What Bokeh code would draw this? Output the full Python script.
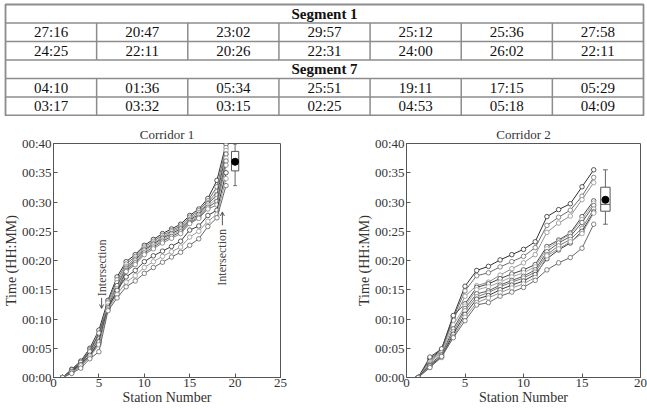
import numpy as np
from bokeh.plotting import figure
from bokeh.layouts import column, row
from bokeh.models import Range1d, FixedTicker, Arrow, OpenHead, Label
from bokeh.embed import file_html
from bokeh.resources import INLINE
from bokeh.core.properties import value

SERIF = "Liberation Serif"

# ---------------- table data ----------------
segment_headers = ["Segment 1", "Segment 7"]
seg1_row1 = ["27:16", "20:47", "23:02", "29:57", "25:12", "25:36", "27:58"]
seg1_row2 = ["24:25", "22:11", "20:26", "22:31", "24:00", "26:02", "22:11"]
seg7_row1 = ["04:10", "01:36", "05:34", "25:51", "19:11", "17:15", "05:29"]
seg7_row2 = ["03:17", "03:32", "03:15", "02:25", "04:53", "05:18", "04:09"]

# ---------------- chart data (minutes) ----------------
time_tick_values = [0, 5, 10, 15, 20, 25, 30, 35, 40]
time_tick_labels = ["00:00", "00:05", "00:10", "00:15", "00:20", "00:25", "00:30", "00:35", "00:40"]

corridor1 = [
    [0, 1.4, 2.8, 5.0, 8.1, 13.2, 17.2, 19.8, 21.0, 22.6, 23.6, 24.6, 25.4, 26.2, 27.7, 28.8, 30.6, 33.7, 39.9],
    [0, 1.2, 2.5, 4.8, 7.3, 12.9, 16.7, 19.4, 20.7, 22.3, 23.3, 24.3, 25.1, 25.9, 27.4, 28.5, 30.2, 32.6, 39.3],
    [0, 1.0, 2.3, 4.6, 6.9, 12.5, 16.2, 19.0, 20.4, 22.0, 23.0, 24.0, 24.9, 25.6, 27.1, 28.2, 29.9, 31.8, 38.8],
    [0, 1.1, 2.4, 4.2, 6.6, 12.1, 15.7, 18.7, 20.1, 21.8, 22.8, 23.8, 24.6, 25.4, 26.9, 27.9, 29.7, 31.2, 38.2],
    [0, 0.9, 2.0, 3.9, 6.3, 12.7, 15.2, 18.5, 19.9, 21.6, 22.6, 23.5, 24.4, 25.1, 26.7, 27.7, 29.4, 30.6, 37.5],
    [0, 1.3, 2.6, 4.4, 7.6, 11.8, 14.8, 18.3, 19.6, 21.3, 22.3, 23.3, 24.1, 24.9, 26.5, 27.4, 29.1, 30.1, 37.0],
    [0, 0.8, 1.9, 3.6, 5.9, 12.2, 14.3, 18.1, 19.3, 21.0, 22.0, 23.0, 23.8, 24.6, 26.3, 27.2, 28.8, 29.5, 36.3],
    [0, 1.0, 2.2, 3.8, 6.1, 11.9, 14.9, 17.2, 18.3, 19.8, 20.8, 21.6, 22.4, 23.3, 25.2, 25.9, 27.7, 28.6, 35.0],
    [0, 0.9, 2.0, 3.5, 5.6, 11.6, 14.2, 16.3, 17.4, 18.8, 19.8, 20.7, 21.5, 22.3, 24.0, 25.0, 26.7, 27.9, 34.0],
    [0, 0.7, 1.6, 3.2, 4.4, 11.4, 13.6, 15.5, 16.5, 17.8, 18.8, 19.7, 20.6, 21.4, 22.6, 23.7, 25.8, 27.3, 32.8],
]

corridor2 = [
    [0, 3.2, 4.8, 10.5, 15.6, 18.3, 19.0, 20.1, 21.0, 21.9, 23.2, 27.5, 28.7, 29.7, 32.6, 35.5],
    [0, 3.0, 4.6, 10.2, 14.8, 17.4, 17.9, 18.9, 19.8, 20.7, 22.2, 26.0, 27.4, 28.6, 31.0, 34.2],
    [0, 2.8, 4.4, 9.8, 13.9, 15.7, 16.3, 17.5, 18.6, 19.6, 21.0, 24.8, 26.4, 27.6, 30.4, 33.3],
    [0, 3.5, 4.9, 10.6, 12.6, 15.4, 16.0, 16.9, 17.7, 18.4, 19.3, 22.4, 23.5, 24.7, 27.5, 30.2],
    [0, 2.6, 4.2, 9.0, 12.2, 15.0, 15.5, 16.3, 17.2, 17.9, 18.9, 22.0, 23.3, 24.5, 27.0, 29.8],
    [0, 2.3, 3.9, 8.3, 11.8, 14.3, 14.8, 15.8, 16.6, 17.3, 18.4, 21.5, 23.0, 24.1, 26.5, 29.4],
    [0, 2.1, 3.7, 7.8, 11.4, 13.8, 14.5, 15.5, 16.3, 17.0, 18.0, 21.0, 22.5, 23.6, 25.5, 28.8],
    [0, 2.0, 3.5, 7.4, 10.8, 13.4, 14.0, 15.0, 15.8, 16.5, 17.6, 20.3, 21.8, 23.0, 25.0, 28.3],
    [0, 1.8, 3.4, 7.0, 10.3, 12.8, 13.6, 14.5, 15.3, 16.0, 17.1, 20.8, 22.0, 23.2, 24.6, 28.1],
    [0, 1.7, 3.6, 6.8, 9.7, 12.4, 12.8, 13.9, 14.6, 15.4, 16.6, 18.4, 19.6, 20.5, 22.1, 26.2],
]

line_grays = ["#2e2e2e", "#6e6e6e", "#8f8f8f", "#444444", "#a3a3a3",
              "#5a5a5a", "#7c7c7c", "#3a3a3a", "#979797", "#666666"]

# Intersection annotations: (station, text start minute, arrow from, arrow to)
c1_intersections = [(5.3, 13.9, 13.6, 11.8), (18.6, 15.7, 26.0, 28.3)]

# ---------------- table figure ----------------
table_rows = [("header", segment_headers[0]), ("data", seg1_row1), ("data", seg1_row2),
              ("header", segment_headers[1]), ("data", seg7_row1), ("data", seg7_row2)]
n_rows = len(table_rows)
n_cols = len(seg1_row1)

TOTAL_W = 647
TABLE_H = 116
# pixel padding around the table inside its figure (left, right, top, bottom)
pad_l, pad_r, pad_t, pad_b = 5, 4, 4, 1
col_px = (TOTAL_W - pad_l - pad_r) / n_cols
row_px = (TABLE_H - pad_t - pad_b) / n_rows

tp = figure(width=TOTAL_W, height=TABLE_H,
            x_range=Range1d(-pad_l / col_px, n_cols + pad_r / col_px),
            y_range=Range1d(-pad_b / row_px, n_rows + pad_t / row_px),
            output_backend="svg", toolbar_location=None, min_border=0,
            x_axis_location=None, y_axis_location=None)
tp.grid.visible = False
tp.outline_line_color = None

tp.quad(left=[0], right=[n_cols], bottom=[0], top=[n_rows], fill_color=None,
        line_color="#8c8c8c", line_width=1.8)
hy = list(range(1, n_rows))
tp.segment(x0=[0] * len(hy), x1=[n_cols] * len(hy), y0=hy, y1=hy, line_color="#8c8c8c", line_width=1.5)

vx0, vy0, vy1 = [], [], []
dx, dy, dt = [], [], []
hx, hyc, ht = [], [], []
for r, (kind, content) in enumerate(table_rows):
    yc = n_rows - r - 0.5
    if kind == "header":
        hx.append(n_cols / 2)
        hyc.append(yc)
        ht.append(content)
    else:
        for c in range(1, n_cols):
            vx0.append(c)
            vy0.append(n_rows - r - 1)
            vy1.append(n_rows - r)
        for c, s in enumerate(content):
            dx.append(c + 0.5)
            dy.append(yc)
            dt.append(s)
tp.segment(x0=vx0, x1=vx0, y0=vy0, y1=vy1, line_color="#8c8c8c", line_width=1.5)
tp.text(x=dx, y=dy, text=dt, text_font=value(SERIF), text_font_size="15px",
        text_align="center", text_baseline="middle", text_color="#111111")
tp.text(x=hx, y=hyc, text=ht, text_font=value(SERIF), text_font_size="15px", text_font_style="bold",
        text_align="center", text_baseline="middle", text_color="#111111")


# ---------------- corridor figures ----------------
def corridor_fig(title, lines, xmax, width, border_left, border_right, intersections):
    n = len(lines[0])
    stations = list(range(1, n + 1))
    p = figure(width=width, height=293, x_range=Range1d(0, xmax), y_range=Range1d(0, 40),
               output_backend="svg", toolbar_location=None, title=title,
               min_border_left=border_left, min_border_right=border_right,
               min_border_top=27, min_border_bottom=32)
    p.grid.visible = False
    p.outline_line_color = "#555555"
    p.outline_line_width = 1
    p.background_fill_color = "white"
    p.border_fill_color = "white"
    p.title.align = "center"
    p.title.text_font = SERIF
    p.title.text_font_style = "normal"
    p.title.text_font_size = "13px"
    p.title.text_color = "#333333"
    p.title.standoff = 3

    for i, ys in enumerate(lines):
        col = line_grays[i % len(line_grays)]
        p.line(stations, ys, line_color=col, line_width=1)
        p.scatter(stations, ys, marker="circle", size=4.5, line_color=col, fill_color="white", line_width=0.8)

    finals = np.array([l[-1] for l in lines])
    q1, med, q3 = np.percentile(finals, [25, 50, 75])
    mean = finals.mean()
    lo, hi = finals.min(), finals.max()
    xb = n + 1
    hw = 0.4
    p.segment(x0=[xb, xb], x1=[xb, xb], y0=[q3, lo], y1=[hi, q1], line_color="#666666", line_width=1)
    p.segment(x0=[xb - hw / 2] * 2, x1=[xb + hw / 2] * 2, y0=[lo, hi], y1=[lo, hi], line_color="#666666", line_width=1)
    p.quad(left=[xb - hw], right=[xb + hw], bottom=[q1], top=[q3], fill_color="white",
           line_color="#555555", line_width=1)
    p.segment(x0=[xb - hw], x1=[xb + hw], y0=[med], y1=[med], line_color="#555555", line_width=1)
    p.scatter([xb], [mean], marker="circle", size=7, fill_color="black", line_color="black")

    for (sx, ty, a0, a1) in intersections:
        p.add_layout(Label(x=sx, y=ty, text="Intersection", angle=np.pi / 2, text_font=SERIF,
                           text_font_size="12px", text_align="left", text_baseline="middle",
                           text_color="#444444"))
        p.add_layout(Arrow(end=OpenHead(size=4, line_color="#555555", line_width=1),
                           x_start=sx, y_start=a0, x_end=sx, y_end=a1,
                           line_color="#555555", line_width=1))

    xticks = list(range(0, xmax + 1, 5))
    p.xaxis.ticker = FixedTicker(ticks=xticks)
    p.yaxis.ticker = FixedTicker(ticks=time_tick_values)
    p.yaxis.major_label_overrides = dict(zip(time_tick_values, time_tick_labels))
    p.xaxis.axis_label = "Station Number"
    p.yaxis.axis_label = "Time (HH:MM)"
    for ax in [p.xaxis[0], p.yaxis[0]]:
        ax.axis_line_color = "#555555"
        ax.major_tick_in = 4
        ax.major_tick_out = 0
        ax.minor_tick_line_color = None
        ax.major_tick_line_color = "#555555"
        ax.major_label_text_font = SERIF
        ax.major_label_text_font_size = "13px"
        ax.major_label_text_color = "#333333"
        ax.axis_label_text_font = SERIF
        ax.axis_label_text_font_size = "14px"
        ax.axis_label_text_font_style = "normal"
        ax.axis_label_text_color = "#333333"
    p.xaxis.major_label_standoff = 1
    p.xaxis.axis_label_standoff = 0
    p.yaxis.major_label_standoff = 2
    p.yaxis.axis_label_standoff = 0
    return p


LEFT_W = 300
p1 = corridor_fig("Corridor 1", corridor1, 25, LEFT_W, 45, 20, c1_intersections)
p2 = corridor_fig("Corridor 2", corridor2, 20, TOTAL_W - LEFT_W, 106, 7, [])

layout = column(tp, row(p1, p2, spacing=0), spacing=0)

open("out.html", "w").write(file_html(layout, INLINE))
